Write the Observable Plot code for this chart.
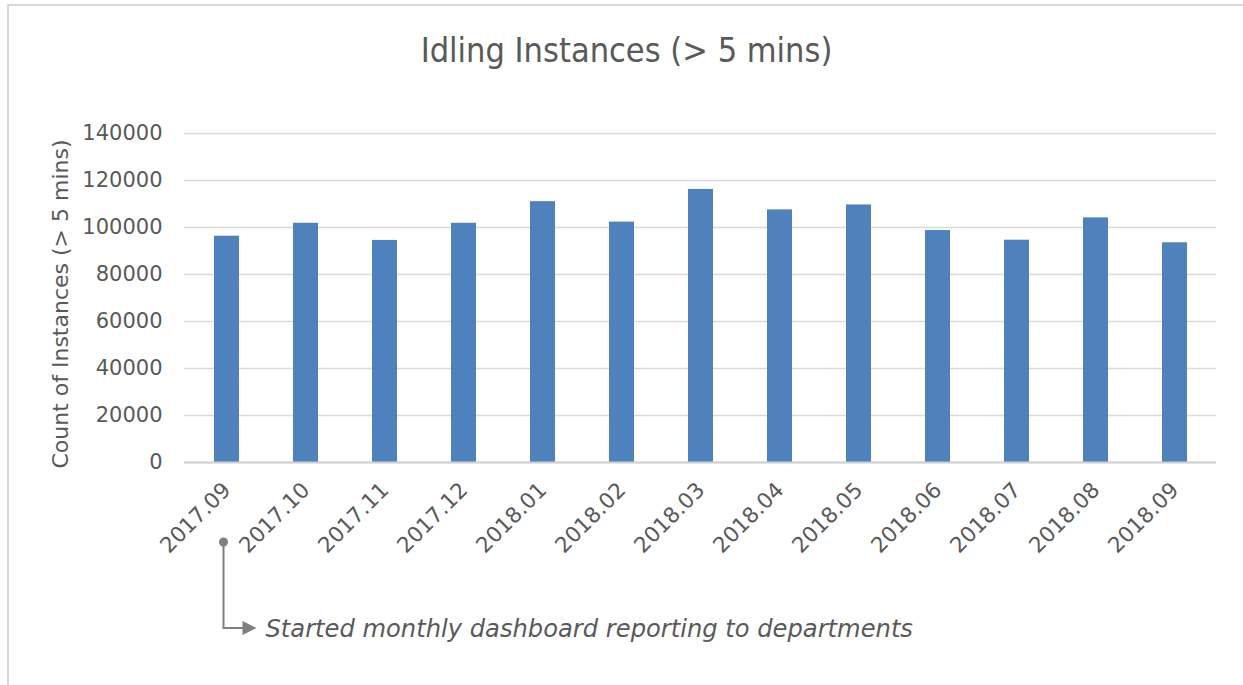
<!DOCTYPE html>
<html>
<head>
<meta charset="utf-8">
<script src="https://cdn.jsdelivr.net/npm/d3@7"></script>
<script src="https://cdn.jsdelivr.net/npm/@observablehq/plot@0.6"></script>
<style>
  html, body { margin: 0; padding: 0; background: #fff; }
  #chart { width: 1243px; height: 685px; }
</style>
</head>
<body>
<div id="chart"></div>
<script>
const months = ["2017.09","2017.10","2017.11","2017.12","2018.01","2018.02","2018.03","2018.04","2018.05","2018.06","2018.07","2018.08","2018.09"];
const counts = [96300,101800,94500,101800,111000,102300,116200,107500,109600,98700,94600,104100,93500];
const yTicks = [0,20000,40000,60000,80000,100000,120000,140000];
const titleText = "Idling Instances (> 5 mins)";
const yLabel = "Count of Instances (> 5 mins)";
const noteText = "Started monthly dashboard reporting to departments";
const noteMonth = "2017.09";

const data = months.map((m, i) => ({month: m, count: counts[i]}));
const grey = "#595959";

const plot = Plot.plot({
  width: 1243,
  height: 685,
  marginLeft: 184,
  marginRight: 27,
  marginTop: 133,
  marginBottom: 223,
  style: {fontFamily: "DejaVu Sans", fontSize: "20px", color: grey, background: "white"},
  x: {domain: months, paddingInner: 0.685, paddingOuter: 0.3425, label: null},
  y: {domain: [0, 140000], label: null},
  marks: [
    Plot.gridY(yTicks, {stroke: "#d9d9d9", strokeOpacity: 1, strokeWidth: 1.5}),
    Plot.barY(data, {x: "month", y: "count", fill: "#4f81bd"}),
    Plot.ruleY([0], {stroke: "#d0d0d0", strokeWidth: 2}),
    Plot.axisY(yTicks, {tickSize: 0, tickPadding: 22, tickFormat: d => String(d), label: null, fill: grey, fontSize: 21}),
    Plot.axisX({tickSize: 0, tickRotate: -45, tickPadding: 24, label: null, fill: grey, fontSize: 21.5}),
    Plot.text([yLabel], {frameAnchor: "left", textAnchor: "middle", rotate: -90, dx: -124, dy: 6, fill: grey, fontSize: 22}),
    Plot.text([titleText], {frameAnchor: "top", textAnchor: "middle", lineAnchor: "bottom", dx: -74, dy: -72, fill: grey, fontSize: 34, fontFamily: "DejaVu Sans Condensed"})
  ]
});

document.getElementById("chart").appendChild(plot);

// frame border and annotation
const svg = d3.select(plot);
svg.insert("path", ":first-child")
  .attr("d", "M8,685V5H1243")
  .attr("fill", "none")
  .attr("stroke", "#d9d9d9")
  .attr("stroke-width", 2);

const xs = plot.scale("x");
const xc = xs.apply(noteMonth) + xs.bandwidth / 2 - 3;
const g = svg.append("g").attr("fill", "#7f7f7f").attr("stroke", "#7f7f7f");
g.append("circle").attr("cx", xc).attr("cy", 542).attr("r", 4.5).attr("stroke", "none");
g.append("path").attr("d", `M${xc},542V628H${xc + 20}`).attr("fill", "none").attr("stroke-width", 2);
g.append("path").attr("d", `M${xc + 19},621L${xc + 33},628L${xc + 19},635Z`).attr("stroke", "none");
svg.append("text")
  .attr("x", xc + 42).attr("y", 637)
  .attr("text-anchor", "start")
  .attr("fill", grey)
  .attr("font-family", "DejaVu Sans")
  .attr("font-style", "italic")
  .attr("font-size", 24.2)
  .text(noteText);
</script>
</body>
</html>
